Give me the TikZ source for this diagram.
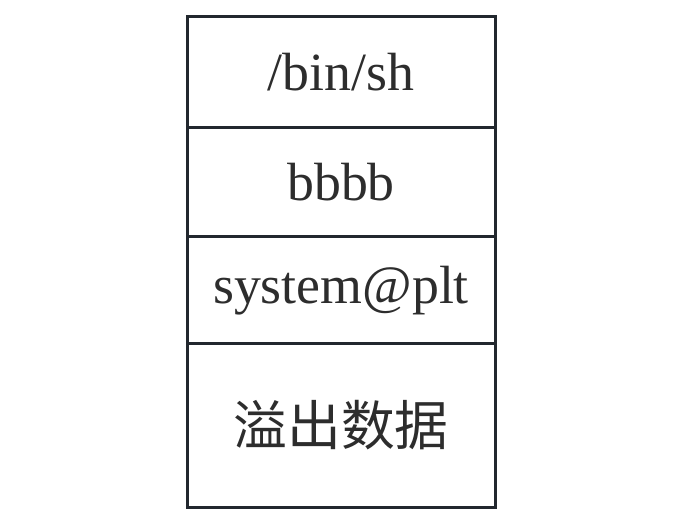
\documentclass[tikz,border=0pt]{standalone}
\usepackage{fontspec}
\setmainfont{Liberation Serif}
\newfontfamily\cjk{Noto Sans CJK SC}
\usepackage{tikz}
\usetikzlibrary{
    positioning
}

\begin{document}
\begin{tikzpicture}[
    x=1bp, y=1bp,
    node distance=0pt,
    font=\fontsize{54}{60}\selectfont,
    cell/.style={
    	draw=my-dark,
    	line width=3bp,
    	minimum width=308bp,
    	minimum height=109bp,
    	inner sep=0pt, outer sep=0pt, align=center,
    	text=my-text
    }]
    \definecolor{my-dark}{RGB}{34, 40, 46}
    \definecolor{my-text}{RGB}{45, 45, 45}
    
    \useasboundingbox (0,0) rectangle (690,520);
    
    \node[cell, anchor=north, minimum height=111bp] (binsh) at (341,503) {/bin/sh};
    \node[cell, below=of binsh] (bbbb) {bbbb};
    \node[cell, below=of bbbb, minimum height=107bp] (system) {system@plt};
    \node[cell, below=of system, minimum height=163bp, font=\cjk\fontsize{54}{60}\selectfont] (overflow) {溢出数据};
    
\end{tikzpicture}
\end{document}
